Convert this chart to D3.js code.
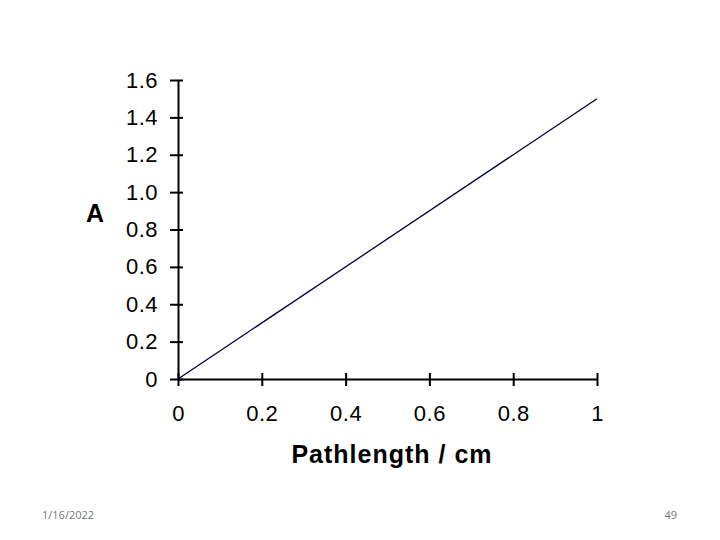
<!DOCTYPE html>
<html>
<head>
<meta charset="utf-8">
<script src="https://cdn.jsdelivr.net/npm/d3@7"></script>
<style>
  body { margin: 0; background: #fff; }
  .tick text { font-family: "Liberation Sans", Arial, sans-serif; font-size: 22px; letter-spacing: 0.5px; fill: #000; }
</style>
</head>
<body>
<div class="chart"></div>
<script>
// data
var pathlength = [0, 1];
var absorbance = [0, 1.5];
var xTicks = [0, 0.2, 0.4, 0.6, 0.8, 1];
var yTicks = [0, 0.2, 0.4, 0.6, 0.8, 1.0, 1.2, 1.4, 1.6];
var yTickLabels = ["0", "0.2", "0.4", "0.6", "0.8", "1.0", "1.2", "1.4", "1.6"];

var margin = { top: 80, left: 178 };
var width = 419;
var height = 299;

var xScale = d3.scaleLinear().domain([0, 1]).range([0, width]);
var yScale = d3.scaleLinear().domain([0, 1.6]).range([height, 0]);

var svg = d3.select(".chart").append("svg")
    .attr("width", 720)
    .attr("height", 540);

var g = svg.append("g")
    .attr("transform", "translate(" + margin.left + "," + margin.top + ")");

// x axis
var xAxis = g.append("g")
    .attr("transform", "translate(0," + height + ")")
    .call(d3.axisBottom(xScale).tickValues(xTicks).tickSizeOuter(0).tickPadding(20)
        .tickFormat(function(d) { return d3.format("")(d); }));
xAxis.selectAll(".tick line").attr("y1", -6).attr("y2", 7).attr("stroke-width", 2);
xAxis.select(".domain").attr("stroke-width", 2);

// y axis
var yAxis = g.append("g")
    .call(d3.axisLeft(yScale).tickValues(yTicks).tickSizeOuter(0).tickPadding(14)
        .tickFormat(function(d, i) { return yTickLabels[i]; }));
yAxis.selectAll(".tick line").attr("x1", -8).attr("x2", 5).attr("stroke-width", 2);
yAxis.select(".domain").attr("stroke-width", 2);

// the line
var line = d3.line()
    .x(function(d, i) { return xScale(d); })
    .y(function(d, i) { return yScale(absorbance[i]); });

g.append("path")
    .datum(pathlength)
    .attr("d", line)
    .attr("fill", "none")
    .attr("stroke", "#000040")
    .attr("stroke-width", 1.3);

// axis labels
svg.append("text")
    .attr("x", 392)
    .attr("y", 463)
    .attr("text-anchor", "middle")
    .style("font-family", "Liberation Sans, Arial, sans-serif")
    .style("font-weight", "bold")
    .style("font-size", "25px")
    .style("letter-spacing", "1px")
    .text("Pathlength / cm");

svg.append("text")
    .attr("x", 95)
    .attr("y", 222)
    .attr("text-anchor", "middle")
    .style("font-family", "Liberation Sans, Arial, sans-serif")
    .style("font-weight", "bold")
    .style("font-size", "25px")
    .text("A");

// slide footer
svg.append("text")
    .attr("x", 42)
    .attr("y", 519)
    .style("font-family", "Open Sans, sans-serif")
    .style("font-size", "11px")
    .style("fill", "#777")
    .text("1/16/2022");

svg.append("text")
    .attr("x", 677)
    .attr("y", 519)
    .attr("text-anchor", "end")
    .style("font-family", "Open Sans, sans-serif")
    .style("font-size", "11px")
    .style("fill", "#777")
    .text("49");
</script>
</body>
</html>
